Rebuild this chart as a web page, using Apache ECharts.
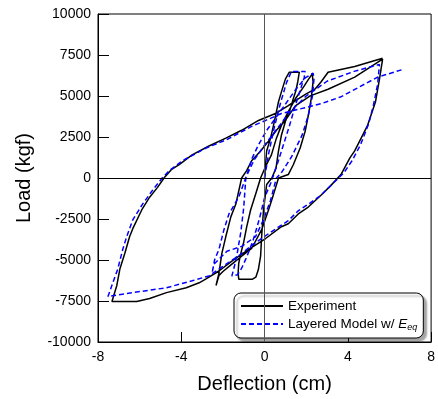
<!DOCTYPE html>
<html>
<head>
<meta charset="utf-8">
<script src="https://cdn.jsdelivr.net/npm/echarts@6/dist/echarts.min.js"></script>
<style>
html,body{margin:0;padding:0;background:#fff;}
#c{width:438px;height:399px;}
</style>
</head>
<body>
<div id="c"></div>
<script>
// Experiment: deflection (cm) and load (kgf)
var expDeflection = [
  0,0.1,0.29,0.43,0.57,0.67,0.81,1.0,1.19,1.67,
  1.6,1.5,1.38,1.24,1.0,0.81,0.67,0.55,0.35,0.1,-0.05,-0.14,-0.19,-0.3,-0.42,-0.58,-1.24,
  -1.27,-1.24,-1.14,-1.0,-0.86,-0.67,-0.43,-0.19,0.05,0.33,0.57,0.81,1.14,1.48,1.9,2.1,2.29,
  2.33,2.24,2.1,1.95,1.71,1.38,1.14,0.67,0.43,0.19,-0.14,-0.62,-1.1,-1.57,-2.0,-2.19,-2.33,
  -2.19,-2.05,-1.86,-1.62,-1.38,-1.1,-0.86,-0.62,-0.19,0.19,0.57,1.0,1.48,2.19,3.05,4.33,5.67,
  5.52,5.33,4.95,4.33,4.1,3.67,3.19,2.71,2.1,1.62,1.14,0.81,0.05,-0.76,-1.57,-2.19,-2.81,-3.14,-3.76,-4.71,-5.52,-6.14,-7.33,
  -7.1,-6.95,-6.71,-6.48,-6.33,-5.9,-5.52,-5.14,-4.81,-4.48,-4.1,-3.48,-2.67,-1.86,-1.1,-0.29,0.52,1.14,1.62,2.0,2.43,2.71,3.05,4.33,5.67
];
var expLoad = [
  0,1650,2430,3210,4050,4650,5250,6030,6450,6450,
  5900,5300,4830,4230,3450,2610,1650,600,0,-400,-1950,-3570,-4770,-5600,-6050,-6170,-6170,
  -5800,-5200,-4600,-3900,-3000,-1950,-990,0,700,1410,2430,3210,4050,4830,5600,6000,6350,
  5860,4830,3810,2850,1830,810,210,0,-1000,-1950,-3150,-4300,-4770,-5250,-5700,-5950,-6550,
  -5800,-4600,-3570,-2370,-1590,0,450,1050,1650,2250,2910,3510,4400,5010,5410,6150,7250,
  6030,4650,3210,1650,1230,210,-450,-1050,-1770,-2190,-2790,-2970,-3690,-4350,-5070,-5670,-6150,-6390,-6690,-6990,-7350,-7530,-7530,
  -6570,-5550,-4590,-3570,-3090,-1950,-1170,-570,30,510,810,1410,1950,2430,2910,3510,3930,4410,4830,5130,5430,5850,6450,6800,7300
];
// Layered Model w/ Eeq
var modelDeflection = [
  0,0.2,0.45,0.75,1.05,1.29,1.95,
  1.9,1.7,1.45,1.2,0.9,0.6,0.3,0.0,-0.25,-0.55,-0.85,-1.1,-1.3,-1.57,
  -1.45,-1.3,-1.14,-1.0,-0.9,-0.6,-0.3,0.1,0.5,1.0,1.5,1.95,2.33,
  2.38,2.3,2.1,1.8,1.3,0.85,0.57,0.29,-0.05,-0.43,-1.1,-1.81,-2.19,-2.43,-2.52,
  -2.4,-2.19,-1.95,-1.71,-1.24,-0.9,-0.5,0.0,0.6,1.2,2.0,3.0,4.3,5.52,
  5.43,5.24,5.0,4.6,4.2,3.8,3.43,2.71,2.1,1.62,1.14,0.3,-0.5,-1.2,-1.9,-2.3,-2.67,-3.48,-4.71,-6.33,-7.52,
  -7.29,-7.05,-6.81,-6.62,-6.33,-5.86,-5.38,-4.9,-4.57,-3.95,-2.81,-1.86,-0.62,0.05,0.81,1.76,2.71,3.67,5.43,6.67
];
var modelLoad = [
  0,1500,3000,4500,5800,6500,6500,
  6100,5300,4300,3200,2000,800,-300,-1200,-2500,-3800,-4800,-5500,-5900,-5970,
  -5400,-4500,-3300,-1800,0,1200,2000,2900,3600,4500,5400,6100,6400,
  6100,5000,3800,2600,1300,400,0,-1350,-2550,-3570,-4170,-4470,-4950,-5250,-5790,
  -5000,-4350,-3150,-2190,-1170,30,1100,2000,3000,4000,5000,5900,6500,6930,
  5700,4500,3300,2000,1050,300,-150,-1050,-1600,-2000,-2600,-3300,-4000,-4700,-5300,-5650,-5970,-6270,-6690,-6990,-7230,
  -6390,-5550,-4350,-3570,-2550,-1590,-750,30,450,1050,1830,2310,3150,3510,3930,4230,4530,4950,6150,6630
];
var xTicks = [-8, -4, 0, 4, 8];
var yTicks = [-10000, -7500, -5000, -2500, 0, 2500, 5000, 7500, 10000];

function pairs(xs, ys) { return xs.map(function (x, i) { return [x, ys[i]]; }); }

var font = 'Liberation Sans, Arial, Helvetica, sans-serif';
var chart = echarts.init(document.getElementById('c'), null, {renderer: 'canvas'});
chart.setOption({
  animation: false,
  backgroundColor: '#fff',
  grid: {left: 98, right: 4, top: 14, bottom: 52, show: true, borderColor: '#000', borderWidth: 1},
  xAxis: {
    type: 'value', min: xTicks[0], max: xTicks[xTicks.length - 1], interval: 4,
    name: 'Deflection (cm)', nameLocation: 'middle', nameGap: 32,
    nameTextStyle: {fontFamily: font, fontSize: 20, color: '#000'},
    axisLine: {onZero: false, lineStyle: {color: '#000', width: 1}},
    axisTick: {inside: true, length: 10, lineStyle: {color: '#000'}},
    axisLabel: {fontFamily: font, fontSize: 14, color: '#000', margin: 8, formatter: function (v) { return String(v); }},
    splitLine: {show: false}
  },
  yAxis: {
    type: 'value', min: yTicks[0], max: yTicks[yTicks.length - 1], interval: 2500,
    name: 'Load (kgf)', nameLocation: 'middle', nameGap: 64,
    nameTextStyle: {fontFamily: font, fontSize: 20, color: '#000'},
    axisLine: {onZero: false, lineStyle: {color: '#000', width: 1}},
    axisTick: {inside: true, length: 11, lineStyle: {color: '#000'}},
    axisLabel: {fontFamily: font, fontSize: 14, color: '#000', margin: 7, formatter: function (v) { return String(v); }},
    splitLine: {show: false}
  },
  legend: {
    orient: 'vertical', left: 234, top: 293,
    padding: [6, 6, 6, 6], itemGap: 4, itemWidth: 42, itemHeight: 14,
    backgroundColor: '#fff', borderColor: '#000', borderWidth: 1, borderRadius: 7,
    shadowColor: 'rgba(0,0,0,0.35)', shadowBlur: 2, shadowOffsetX: 3, shadowOffsetY: 3,
    itemStyle: {opacity: 0},
    data: ['Experiment', 'Layered'],
    formatter: function (name) {
      return name === 'Layered' ? '{n|Layered Model w/ }{i|E}{s|eq}' : '{n|Experiment}';
    },
    textStyle: {
      fontFamily: font, fontSize: 13.5, color: '#000',
      rich: {
        n: {fontFamily: font, fontSize: 13.5, color: '#000', lineHeight: 16},
        i: {fontFamily: font, fontSize: 13.5, fontStyle: 'italic', color: '#000', lineHeight: 16},
        s: {fontFamily: font, fontSize: 9, fontStyle: 'italic', color: '#000', lineHeight: 8, verticalAlign: 'bottom'}
      }
    }
  },
  series: [
    {
      name: 'Experiment', type: 'line', data: pairs(expDeflection, expLoad),
      symbol: 'none', smooth: false, z: 3,
      lineStyle: {color: '#000', width: 1.5},
      itemStyle: {color: '#000'},
      markLine: {
        silent: true, symbol: 'none', label: {show: false}, animation: false,
        data: [
          {xAxis: 0, lineStyle: {color: '#555', width: 1, type: 'solid'}},
          {yAxis: 0, lineStyle: {color: '#000', width: 1, type: 'solid'}}
        ]
      }
    },
    {
      name: 'Layered', type: 'line', data: pairs(modelDeflection, modelLoad),
      symbol: 'none', smooth: false, z: 4,
      lineStyle: {color: '#0000ff', width: 1.5, type: [5, 3]},
      itemStyle: {color: '#0000ff'}
    }
  ]
});
</script>
</body>
</html>
